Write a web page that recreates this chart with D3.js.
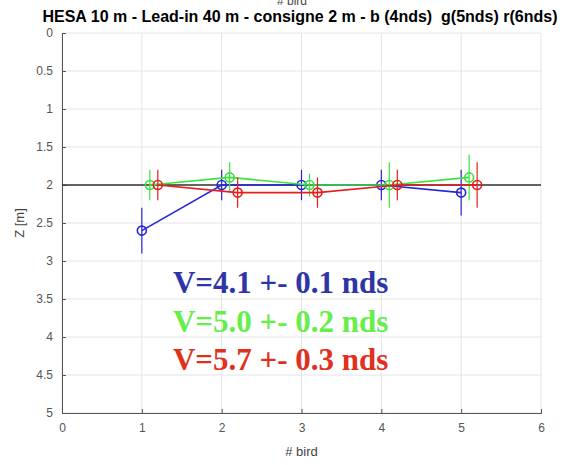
<!DOCTYPE html>
<html>
<head>
<meta charset="utf-8">
<script src="https://cdn.jsdelivr.net/npm/d3@7"></script>
<style>
  body { margin: 0; background: #fff; }
  text { font-family: "Liberation Sans", Arial, sans-serif; }
</style>
</head>
<body>
<div id="chart"></div>
<script>
// bird index (with small offsets per speed), mean Z and spread
var blueX = [1, 2, 3, 4, 5];
var blueY = [2.6, 2.0, 2.0, 2.0, 2.1];
var blueErr = [0.3, 0.2, 0.2, 0.2, 0.3];

var greenX = [1.1, 2.1, 3.1, 4.1, 5.1];
var greenY = [2.0, 1.9, 2.0, 2.0, 1.9];
var greenErr = [0.2, 0.2, 0.15, 0.3, 0.3];

var redX = [1.2, 2.2, 3.2, 4.2, 5.2];
var redY = [2.0, 2.1, 2.1, 2.0, 2.0];
var redErr = [0.2, 0.2, 0.2, 0.2, 0.3];

var xTicks = [0, 1, 2, 3, 4, 5, 6];
var yTicks = [0, 0.5, 1, 1.5, 2, 2.5, 3, 3.5, 4, 4.5, 5];
var consigne = 2;
var labels = ["V=4.1 +- 0.1 nds", "V=5.0 +- 0.2 nds", "V=5.7 +- 0.3 nds"];

var margin = {top: 33, bottom: 52, left: 62, right: 28};
var W = 569, H = 465;
var width = W - margin.left - margin.right;
var height = H - margin.top - margin.bottom;

var svg = d3.select("#chart")
  .append("svg")
  .attr("width", W)
  .attr("height", H);

var g = svg.append("g")
  .attr("transform", "translate(" + margin.left + "," + margin.top + ")");

var x = d3.scaleLinear().domain([0, 6]).range([0, width]);
var y = d3.scaleLinear().domain([0, 5]).range([0, height]);

// grid
g.selectAll(".gx").data(xTicks).enter().append("line")
  .attr("x1", d => x(d)).attr("x2", d => x(d))
  .attr("y1", 0).attr("y2", height)
  .attr("stroke", "#e4e4e4").attr("stroke-width", 1);
g.selectAll(".gy").data(yTicks).enter().append("line")
  .attr("x1", 0).attr("x2", width)
  .attr("y1", d => y(d)).attr("y2", d => y(d))
  .attr("stroke", "#e4e4e4").attr("stroke-width", 1);

// axes
var xAxis = g.append("g")
  .attr("transform", "translate(0," + height + ")")
  .call(d3.axisBottom(x).tickValues(xTicks).tickSize(-4).tickPadding(10).tickFormat(d3.format("")));
var yAxis = g.append("g")
  .call(d3.axisLeft(y).tickValues(yTicks).tickSize(-4).tickPadding(9).tickFormat(d3.format("")));
[xAxis, yAxis].forEach(function(a) {
  a.select(".domain").attr("stroke", "#555");
  a.selectAll(".tick line").attr("stroke", "#555");
  a.selectAll(".tick text")
    .attr("fill", "#555")
    .style("font-family", "Liberation Sans, Arial, sans-serif")
    .style("font-size", "12px");
});

// target line
g.append("line")
  .attr("x1", x(0)).attr("x2", x(6))
  .attr("y1", y(consigne)).attr("y2", y(consigne))
  .attr("stroke", "#333").attr("stroke-width", 1.3);

function series(xs, ys, es, color) {
  var pts = xs.map((d, i) => ({x: d, y: ys[i], e: es[i]}));
  g.selectAll(null).data(pts).enter().append("line")
    .attr("x1", d => x(d.x)).attr("x2", d => x(d.x))
    .attr("y1", d => y(d.y - d.e)).attr("y2", d => y(d.y + d.e))
    .attr("stroke", color).attr("stroke-width", 1.2);
  g.append("path")
    .datum(pts)
    .attr("fill", "none")
    .attr("stroke", color)
    .attr("stroke-width", 1.6)
    .attr("d", d3.line().x(d => x(d.x)).y(d => y(d.y)));
  g.selectAll(null).data(pts).enter().append("circle")
    .attr("cx", d => x(d.x)).attr("cy", d => y(d.y))
    .attr("r", 4.5)
    .attr("fill", "none")
    .attr("stroke", color).attr("stroke-width", 1.6);
}
series(blueX, blueY, blueErr, "#2626d9");
series(greenX, greenY, greenErr, "#3de23d");
series(redX, redY, redErr, "#e61e1e");

// speed annotations
var labelColors = ["#2e35a8", "#66ee4a", "#e0301e"];
var labelY = [3.42, 3.94, 4.43];
g.selectAll(".vlab").data(labels).enter().append("text")
  .attr("x", x(1.39))
  .attr("y", (d, i) => y(labelY[i]))
  .attr("fill", (d, i) => labelColors[i])
  .style("font-family", "Liberation Serif, Times New Roman, serif")
  .style("font-weight", "bold")
  .style("font-size", "31px")
  .text(d => d);

// labels
svg.append("text")
  .attr("x", 292).attr("y", 5)
  .attr("text-anchor", "middle")
  .attr("fill", "#444")
  .style("font-size", "12px")
  .text("# bird");
svg.append("text")
  .attr("x", 300).attr("y", 22)
  .attr("text-anchor", "middle")
  .attr("fill", "#000")
  .style("font-size", "16px")
  .style("font-weight", "bold")
  .style("white-space", "pre")
  .text("HESA 10 m - Lead-in 40 m - consigne 2 m - b (4nds)  g(5nds) r(6nds)");
svg.append("text")
  .attr("x", margin.left + width / 2).attr("y", 456)
  .attr("text-anchor", "middle")
  .attr("fill", "#444")
  .style("font-size", "13px")
  .text("# bird");
svg.append("text")
  .attr("transform", "translate(24," + (margin.top + y(2.5)) + ")rotate(-90)")
  .attr("text-anchor", "middle")
  .attr("fill", "#444")
  .style("font-size", "13px")
  .text("Z [m]");
</script>
</body>
</html>
